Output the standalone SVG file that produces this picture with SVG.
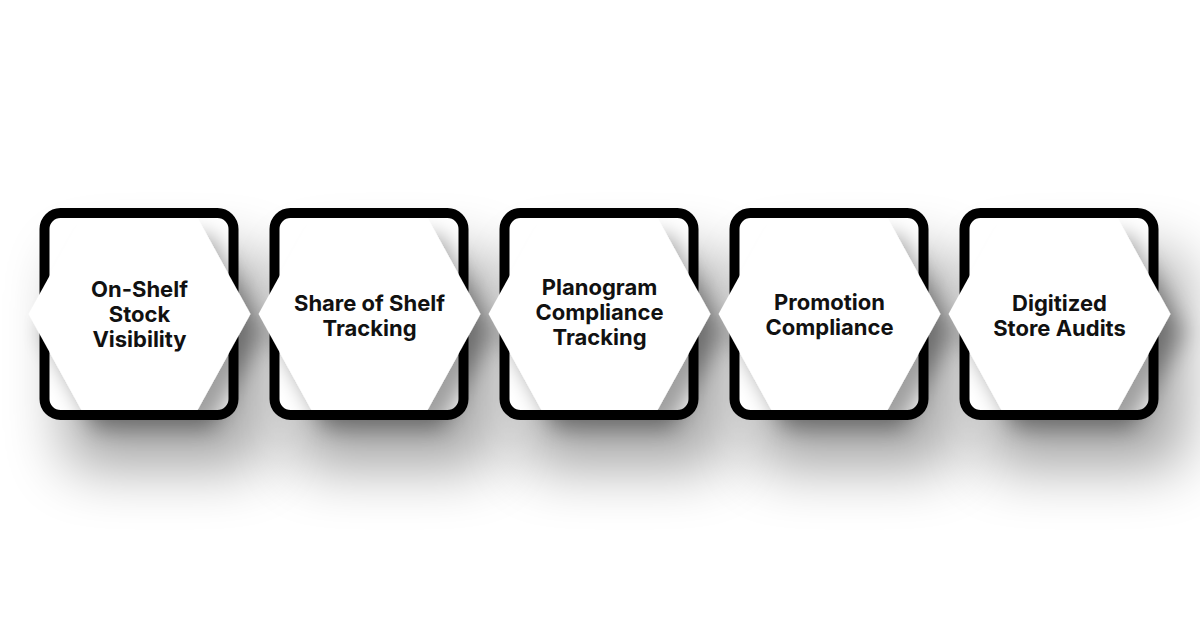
<svg xmlns="http://www.w3.org/2000/svg" width="1200" height="630" viewBox="0 0 1200 630">
  <defs>
    <filter id="boxShadow" x="-60%" y="-60%" width="220%" height="220%">
      <feGaussianBlur stdDeviation="30"/>
    </filter>
    <filter id="hexShadow" x="-30%" y="-30%" width="160%" height="160%">
      <feGaussianBlur in="SourceAlpha" stdDeviation="11"/>
      <feOffset dx="14" dy="18" result="b"/>
      <feComponentTransfer><feFuncA type="linear" slope="0.38"/></feComponentTransfer>
      <feMerge><feMergeNode/><feMergeNode in="SourceGraphic"/></feMerge>
    </filter>
    <g id="box">
      <rect x="-95" y="-101" width="189" height="202" rx="16" fill="#fff" stroke="#000" stroke-width="10"/>
    </g>
  </defs>
  <style>
    .shadow { fill: #000; opacity: 0.36; filter: url(#boxShadow); }
    .hex { fill: #fff; filter: url(#hexShadow); }
    .label { font-family: Inter, "DejaVu Sans", sans-serif; font-weight: 700; font-size: 22px; fill: #111; text-anchor: middle; }
  </style>
  <rect width="1200" height="630" fill="#fff"/>

  <g id="shadows">
    <rect class="shadow" x="65" y="255" width="199" height="212" rx="20"/>
    <rect class="shadow" x="295" y="255" width="199" height="212" rx="20"/>
    <rect class="shadow" x="525" y="255" width="199" height="212" rx="20"/>
    <rect class="shadow" x="755" y="255" width="199" height="212" rx="20"/>
    <rect class="shadow" x="985" y="255" width="199" height="212" rx="20"/>
  </g>

  <g id="node1" transform="translate(139.5,314)">
    <use href="#box"/>
    <polygon class="hex" points="-111,0 -58,-96 58,-96 111,0 58,96 -58,96"/>
    <text class="label" y="-17">On-Shelf</text>
    <text class="label" y="8">Stock</text>
    <text class="label" y="33">Visibility</text>
  </g>
  <g id="node2" transform="translate(369.5,314)">
    <use href="#box"/>
    <polygon class="hex" points="-111,0 -58,-96 58,-96 111,0 58,96 -58,96"/>
    <text class="label" y="-3">Share of Shelf</text>
    <text class="label" y="22">Tracking</text>
  </g>
  <g id="node3" transform="translate(599.5,314)">
    <use href="#box"/>
    <polygon class="hex" points="-111,0 -58,-96 58,-96 111,0 58,96 -58,96"/>
    <text class="label" y="-19">Planogram</text>
    <text class="label" y="6">Compliance</text>
    <text class="label" y="31">Tracking</text>
  </g>
  <g id="node4" transform="translate(829.5,314)">
    <use href="#box"/>
    <polygon class="hex" points="-111,0 -58,-96 58,-96 111,0 58,96 -58,96"/>
    <text class="label" y="-4">Promotion</text>
    <text class="label" y="21">Compliance</text>
  </g>
  <g id="node5" transform="translate(1059.5,314)">
    <use href="#box"/>
    <polygon class="hex" points="-111,0 -58,-96 58,-96 111,0 58,96 -58,96"/>
    <text class="label" y="-3">Digitized</text>
    <text class="label" y="22">Store Audits</text>
  </g>
  <g id="connectors"/>
</svg>
